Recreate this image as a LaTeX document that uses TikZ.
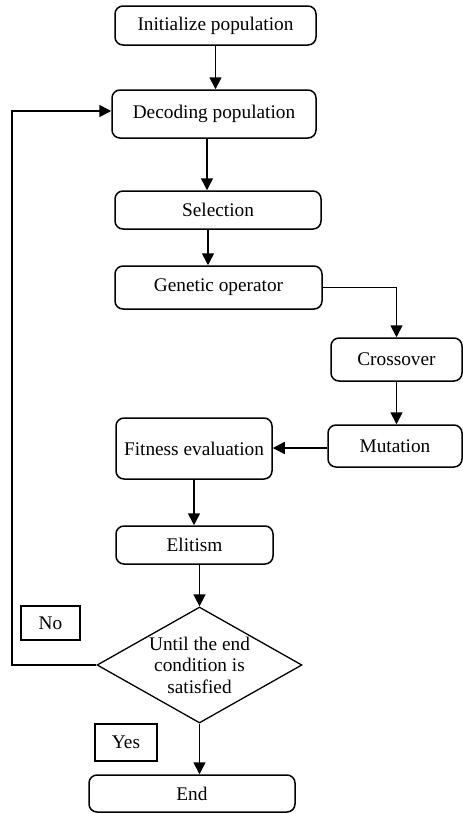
\documentclass[tikz,border=0pt]{standalone}
\usepackage{fontspec}
\setmainfont{Liberation Serif}
\usetikzlibrary{arrows.meta,shapes.geometric}

\tikzset{
	stepbox/.style={draw, rounded corners=8pt, line width=1.5pt, inner sep=0pt},
	answer/.style={draw, line width=1.5pt, inner sep=0pt},
	decision/.style={draw, diamond, line width=1.3pt, inner sep=0pt},
	flow/.style={line width=1.6pt, -{Triangle[width=12pt,length=12pt]}},
}

\begin{document}
\begin{tikzpicture}[x=1pt, y=-1pt, font=\fontsize{19.3}{22}\selectfont]
		\useasboundingbox (0,0) rectangle (463,814);

		\node[stepbox, minimum width=201pt, minimum height=39pt] (init) at (215.5, 25.5) {Initialize population};
		\node[stepbox, minimum width=204pt, minimum height=48pt] (decode) at (214, 114) {Decoding population};
		\node[stepbox, minimum width=206pt, minimum height=38pt] (select) at (218, 210) {Selection};
		\node[stepbox, minimum width=207pt, minimum height=43pt] (genetic) at (218.5, 287.5) {Genetic operator};
		\node[stepbox, minimum width=131pt, minimum height=43pt] (cross) at (396.5, 359.5) {Crossover};
		\node[stepbox, minimum width=134pt, minimum height=42pt] (mutate) at (395, 446) {Mutation};
		\node[stepbox, minimum width=156pt, minimum height=61pt] (fitness) at (194, 448.5) {Fitness evaluation};
		\node[stepbox, minimum width=157pt, minimum height=38pt] (elitism) at (194.5, 545) {Elitism};
		\node[decision, minimum width=205pt, minimum height=116pt,
			label={[align=center, font=\fontsize{19.3}{21.5}\selectfont]center:Until the end\\condition is\\satisfied}] (until) at (199.5, 665) {};
		\node[stepbox, minimum width=206pt, minimum height=37pt] (finish) at (192, 793.5) {End};
		\node[answer, minimum width=59pt, minimum height=34pt] (no) at (50.5, 623) {No};
		\node[answer, minimum width=62pt, minimum height=37pt] (yes) at (126, 742.5) {Yes};

		\coordinate (back) at (12, 665);

		\draw[flow] (init.south) -- (init.south |- decode.north);
		\draw[flow] ([xshift=-7pt]decode.south) -- ([xshift=-7pt]decode.south |- select.north);
		\draw[flow] ([xshift=-10pt]select.south) -- ([xshift=-10pt]select.south |- genetic.north);
		\draw[flow] (genetic.east) -| (cross.north);
		\draw[flow] (cross.south) -- (cross.south |- mutate.north);
		\draw[flow] ([yshift=-2pt]mutate.west) -- ([yshift=-2pt]mutate.west -| fitness.east);
		\draw[flow] (fitness.south) -- (fitness.south |- elitism.north);
		\draw[flow] (until.north |- elitism.south) -- (until.north);
		\draw[flow] (until.south) -- (until.south |- finish.north);
		\draw[flow] (until.west) -- (back) |- ([yshift=3pt]decode.west);
	\end{tikzpicture}
\end{document}
